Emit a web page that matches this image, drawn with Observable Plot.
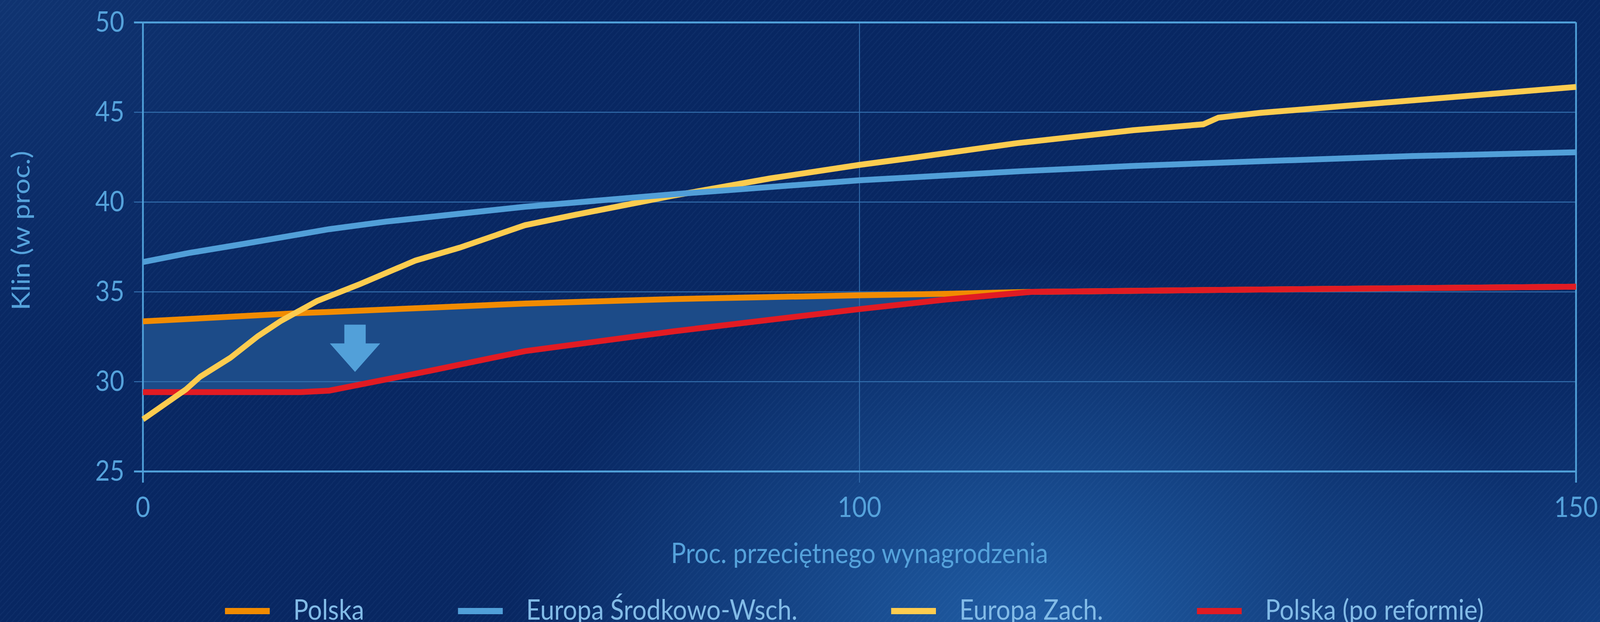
<!DOCTYPE html>
<html>
<head>
<meta charset="utf-8">
<script src="https://cdn.jsdelivr.net/npm/d3@7"></script>
<script src="https://cdn.jsdelivr.net/npm/@observablehq/plot@0.6"></script>
<style>
  html, body { margin: 0; padding: 0; width: 100vw; height: 100vh; overflow: hidden; background: #082762; }
  #page {
    position: absolute; left: 0; top: 0;
    width: 4573px; height: 1593px; overflow: hidden;
    transform-origin: 0 0;
    font-family: Lato, "Open Sans", sans-serif;
    background:
      repeating-linear-gradient(135deg, rgba(255,255,255,0) 0px, rgba(255,255,255,0) 9px, rgba(140,190,245,0.045) 9px, rgba(140,190,245,0.045) 12px),
      radial-gradient(ellipse 1500px 950px at 2950px 1620px, rgba(40,112,188,0.75), rgba(40,112,188,0) 100%),
      radial-gradient(ellipse 900px 700px at 4573px 1593px, rgba(30,90,165,0.45), rgba(30,90,165,0) 100%),
      radial-gradient(ellipse 1500px 900px at 0px 0px, rgba(22,62,125,0.55), rgba(22,62,125,0) 100%),
      #082762;
  }
  #legend {
    display: flex; justify-content: center; align-items: center;
    gap: 268px; margin-top: 43px; height: 72px; line-height: 72px;
    padding-left: 380px; padding-right: 69px;
    font-size: 72px; color: #82bbe7; white-space: nowrap;
  }
  .item { display: flex; align-items: center; }
  .sw { width: 128px; height: 16px; margin-right: 67px; transform: translateY(6px); }
</style>
</head>
<body>
<div id="page">
  <div id="chart"></div>
  <div id="legend"></div>
</div>
<script>
// ---- data ----
const seriesNames = ["Polska", "Europa Środkowo-Wsch.", "Europa Zach.", "Polska (po reformie)"];
const seriesColors = ["#f18b00", "#519fd8", "#fdcc4f", "#e11b23"];

// Polska and Polska (po reformie) read at the same wage levels
const polskaX = [0, 22, 26, 40, 53.3, 74, 100, 106, 112, 128, 150];
const polskaY = [33.36, 33.82, 33.88, 34.12, 34.35, 34.6, 34.81, 34.89, 35.0, 35.13, 35.29];
const reformaY = [29.42, 29.42, 29.5, 30.6, 31.7, 32.8, 34.04, 34.57, 35.0, 35.13, 35.29];

const cesX = [0, 6.5, 13.3, 26, 33.9, 53.3, 73.9, 100, 111.3, 119.1, 127.9, 138.5, 150];
const cesY = [36.66, 37.17, 37.62, 38.49, 38.91, 39.74, 40.43, 41.21, 41.72, 42.01, 42.27, 42.56, 42.77];

const zachX = [0, 6, 8, 12.2, 16, 19.2, 24.3, 30.4, 38, 44.2, 53.3, 60.2, 73.9, 87.6, 100, 103.5, 111, 119.1, 124, 125.04, 127.9, 150];
const zachY = [27.9, 29.57, 30.28, 31.33, 32.52, 33.37, 34.49, 35.45, 36.74, 37.46, 38.71, 39.28, 40.35, 41.32, 42.07, 42.44, 43.28, 44.0, 44.33, 44.7, 44.96, 46.41];

const xTicks = [0, 100, 150];
const yTicks = [25, 30, 35, 40, 45, 50];
const yGrid = [30, 35, 40, 45];
const xLabel = "Proc. przeciętnego wynagrodzenia";
const yLabel = "Klin (w proc.)";

// annotation arrow (drop of the wedge after reform)
const arrowX = [29.6];
const arrowY = [31.87];

// ---- tables built from the arrays ----
const rows = (xs, ys, name) => xs.map((x, i) => ({x, y: ys[i], s: name}));
const linesData = [
  rows(polskaX, polskaY, seriesNames[0]),
  rows(cesX, cesY, seriesNames[1]),
  rows(zachX, zachY, seriesNames[2]),
  rows(polskaX, reformaY, seriesNames[3])
];
const wedge = polskaX.map((x, i) => ({x, lo: reformaY[i], hi: polskaY[i]}));
const arrowData = arrowX.map((x, i) => ({x, y: arrowY[i]}));

// ---- style ----
const W = 4573, H = 1480;
const L = 408, R = 4504, T = 57, B = 1207;
const axisColor = "#4f9fd8";
const gridColor = "#336fae";
const textColor = "#55a2db";
const font = "Lato";

const arrowSymbol = {
  draw(ctx, size) {
    const r = Math.sqrt(size / Math.PI);
    const sw = 0.424 * r, top = -0.833 * r, neck = -0.167 * r, tip = 0.847 * r;
    ctx.moveTo(-sw, top);
    ctx.lineTo(sw, top);
    ctx.lineTo(sw, neck);
    ctx.lineTo(r, neck);
    ctx.lineTo(0, tip);
    ctx.lineTo(-r, neck);
    ctx.lineTo(-sw, neck);
    ctx.closePath();
  }
};

const lineOpts = (i) => ({
  x: "x", y: "y", stroke: seriesColors[i], strokeWidth: 15,
  strokeLinecap: "butt", strokeLinejoin: "miter", strokeMiterlimit: 4
});

const chart = Plot.plot({
  width: W, height: H,
  marginLeft: L, marginRight: W - R, marginTop: T, marginBottom: H - B,
  style: {background: "transparent", fontFamily: font, fontSize: "72px", color: textColor, overflow: "visible", maxWidth: "none"},
  x: {type: "linear", domain: xTicks, range: [L, (L + R) / 2, R]},
  y: {type: "linear", domain: [25, 50]},
  marks: [
    Plot.areaY(wedge, {x: "x", y1: "lo", y2: "hi", fill: "#1c4b88"}),
    Plot.ruleY(yGrid, {stroke: gridColor, strokeWidth: 2.5}),
    Plot.ruleX([100], {stroke: gridColor, strokeWidth: 2.5}),
    Plot.axisY({ticks: yGrid, tickSize: 25, stroke: gridColor, strokeWidth: 2.5, fill: "none", label: null}),
    Plot.axisY({ticks: [25, 50], tickSize: 25, stroke: axisColor, strokeWidth: 5, fill: "none", label: null}),
    Plot.axisY({ticks: yTicks, tickSize: 0, tickPadding: 53, fill: textColor, fontSize: 72, fontFamily: font, label: null}),
    Plot.axisX({ticks: [100], tickSize: 29, stroke: gridColor, strokeWidth: 2.5, fill: "none", label: null}),
    Plot.axisX({ticks: [0, 150], tickSize: 29, stroke: axisColor, strokeWidth: 5, fill: "none", label: null}),
    Plot.axisX({ticks: xTicks, tickSize: 0, tickPadding: 65, fill: textColor, fontSize: 72, fontFamily: font, label: null}),
    Plot.ruleY([25, 50], {stroke: axisColor, strokeWidth: 5}),
    Plot.ruleX([0, 150], {stroke: axisColor, strokeWidth: 5}),
    Plot.dot(arrowData, {x: "x", y: "y", r: 72, symbol: arrowSymbol, fill: "#52a0d9", stroke: "none"}),
    Plot.line(linesData[0], lineOpts(0)),
    Plot.line(linesData[3], lineOpts(3)),
    Plot.line(linesData[2], lineOpts(2)),
    Plot.line(linesData[1], lineOpts(1)),
    Plot.text([xLabel], {text: d => d, frameAnchor: "bottom", dy: 183, lineAnchor: "top", textAnchor: "middle", fontSize: 72, fontFamily: font, fill: textColor}),
    Plot.text([yLabel], {text: d => d, frameAnchor: "left", dx: -347, dy: -42, rotate: -90, textAnchor: "middle", fontSize: 72, fontFamily: font, fill: textColor})
  ]
});
document.getElementById("chart").appendChild(chart);

// legend
const legend = document.getElementById("legend");
seriesNames.forEach((name, i) => {
  const item = document.createElement("div");
  item.className = "item";
  const sw = document.createElement("span");
  sw.className = "sw";
  sw.style.background = seriesColors[i];
  const lab = document.createElement("span");
  lab.textContent = name;
  item.appendChild(sw);
  item.appendChild(lab);
  legend.appendChild(item);
});

// fit the 4573x1593 design to the actual window
const sx = (window.innerWidth || 4573) / 4573;
const sy = (window.innerHeight || 1593) / 1593;
document.getElementById("page").style.transform = `scale(${sx}, ${sy})`;
</script>
</body>
</html>
